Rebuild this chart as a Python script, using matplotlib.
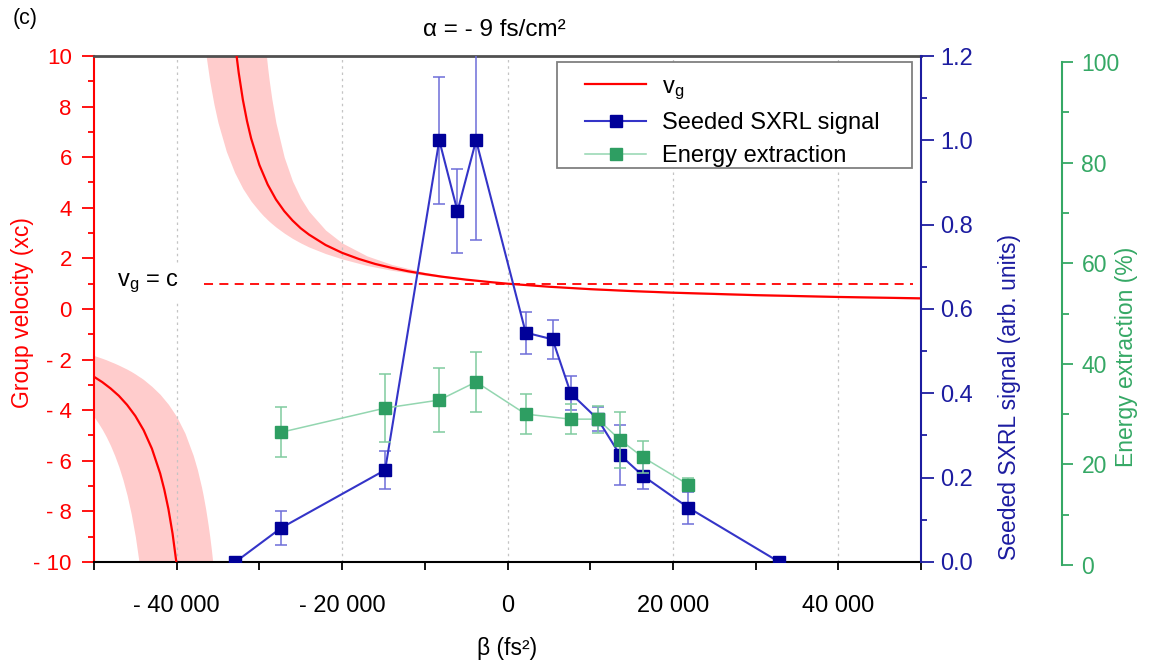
import matplotlib
matplotlib.use('Agg')
import matplotlib.pyplot as plt
from matplotlib.lines import Line2D
from matplotlib.patches import Rectangle

plt.rcParams['font.family'] = ['Liberation Sans', 'DejaVu Sans']
plt.rcParams['mathtext.default'] = 'regular'

# ---------------- data ----------------
# group velocity curve, upper branch (beta in fs^2, vg in units of c)
vg_up_beta = [-32800, -32500, -32000, -31500, -31000, -30000, -29000, -28000, -27000,
              -26000, -25000, -24000, -22000, -20000, -18000, -16000, -14000, -12000,
              -10000, -8000, -5000, -2000, 0, 5000, 10000, 15000, 20000, 30000, 40000, 50000]
vg_up = [10.11, 9.33, 8.27, 7.43, 6.74, 5.69, 4.92, 4.33, 3.87,
         3.50, 3.19, 2.94, 2.53, 2.22, 1.98, 1.78, 1.625, 1.49,
         1.38, 1.28, 1.16, 1.06, 1.00, 0.88, 0.784, 0.708, 0.645, 0.548, 0.476, 0.421]
# lower branch
vg_lo_beta = [-50000, -49000, -48000, -47000, -46000, -45000, -44000, -43000, -42000,
              -41500, -41000, -40500, -40000]
vg_lo = [-2.68, -2.89, -3.14, -3.43, -3.79, -4.23, -4.79, -5.52, -6.50,
         -7.14, -7.91, -8.88, -10.11]

# uncertainty band around upper branch
band_up_beta = [-36800, -36500, -36000, -35500, -35000, -34000, -33000, -32000, -31000,
                -30000, -29500, -29300, -29000, -28800, -28500, -28000, -27000, -26000,
                -25000, -24000, -22000, -20000, -17000, -14000, -10000, -5000, 0, 10000,
                20000, 30000, 40000, 50000]
band_up_low = [10.95, 10.13, 9.00, 8.10, 7.36, 6.23, 5.40, 4.76, 4.26,
               3.86, 3.68, 3.62, 3.52, 3.46, 3.375, 3.24, 3.00, 2.79,
               2.61, 2.45, 2.19, 1.98, 1.72, 1.53, 1.33, 1.14, 1.00, 0.80,
               0.669, 0.574, 0.503, 0.4475]
band_up_high = [11, 11, 11, 11, 11, 11, 11, 11, 11,
                11, 11, 10.45, 9.53, 9.00, 8.31, 7.36, 6.00, 5.06,
                4.38, 3.86, 3.12, 2.61, 2.10, 1.76, 1.446, 1.18, 1.00, 0.764,
                0.618, 0.519, 0.4475, 0.393]
# uncertainty band around lower branch
band_lo_beta = [-50000, -49500, -49000, -48500, -48000, -47500, -47000, -46500, -46000,
                -45500, -45000, -44500, -44300, -44000, -43000, -42000, -41000, -40000,
                -39000, -38000, -37500, -37000, -36800, -36500, -36200, -36000, -35800,
                -35600, -35400]
band_lo_low = [-4.26, -4.50, -4.76, -5.06, -5.40, -5.79, -6.23, -6.75, -7.36,
               -8.10, -9.00, -10.13, -10.66, -11, -11, -11, -11, -11,
               -11, -11, -11, -11, -11, -11, -11, -11, -11,
               -11, -11]
band_lo_high = [-1.84, -1.895, -1.95, -2.01, -2.08, -2.146, -2.22, -2.30, -2.38,
                -2.47, -2.57, -2.68, -2.72, -2.79, -3.06, -3.375, -3.77, -4.26,
                -4.91, -5.79, -6.35, -7.04, -7.36, -7.90, -8.53, -9.00, -9.53,
                -10.13, -10.8]

vgc_beta = [-36700, 49000]
vgc_level = 1.0

# seeded SXRL signal (arb. units)
sxrl_beta = [-32900, -27350, -14800, -8250, -6050, -3800, 2200, 5450, 7650,
             10900, 13600, 16400, 21850, 32850]
sxrl_signal = [0.0, 0.081, 0.218, 1.0, 0.832, 1.0, 0.544, 0.528, 0.400,
               0.339, 0.254, 0.204, 0.129, 0.0]
sxrl_err = [0.0, 0.040, 0.046, 0.151, 0.100, 0.237, 0.050, 0.046, 0.040,
            0.028, 0.071, 0.030, 0.038, 0.0]

# energy extraction (%)
ext_beta = [-27350, -14800, -8250, -3800, 2200, 7650, 10900, 13600, 16400, 21850]
ext_value = [26.4, 31.2, 32.8, 36.4, 30.0, 29.0, 29.0, 24.9, 21.4, 16.0]
ext_err = [5.0, 6.8, 6.3, 6.0, 4.0, 3.0, 2.7, 5.6, 3.2, 1.3]

x_ticks = [-40000, -20000, 0, 20000, 40000]
x_tick_labels = ['- 40 000', '- 20 000', '0', '20 000', '40 000']
x_minor = [-50000, -30000, -10000, 10000, 30000, 50000]
vg_ticks = [-10, -8, -6, -4, -2, 0, 2, 4, 6, 8, 10]
vg_tick_labels = ['- 10', '- 8', '- 6', '- 4', '- 2', '0', '2', '4', '6', '8', '10']
vg_minor = [-9, -7, -5, -3, -1, 1, 3, 5, 7, 9]
sig_ticks = [0.0, 0.2, 0.4, 0.6, 0.8, 1.0, 1.2]
sig_tick_labels = ['0.0', '0.2', '0.4', '0.6', '0.8', '1.0', '1.2']
sig_minor = [0.1, 0.3, 0.5, 0.7, 0.9, 1.1]
ext_ticks = [0, 20, 40, 60, 80, 100]
ext_minor = [10, 30, 50, 70, 90]

# ---------------- styling ----------------
RED = '#ff0000'
PINK = '#ffcccc'
NAVY = '#000099'
BLUE_LINE = '#3434c8'
BLUE_ERR = '#6e6ed8'
BLUE_AX = '#1c1ca0'
GREEN_MK = '#2e9e62'
GREEN_LINE = '#93d6b0'
GREEN_ERR = '#80cc9f'
GREEN_AX = '#35a865'

fig = plt.figure(figsize=(11.62, 6.62), dpi=100)
ax = fig.add_axes([0.0809, 0.1511, 0.7117, 0.7643])
ax.set_xlim(-50000, 50000)
ax.set_ylim(-10, 10)

ax.fill_between(band_up_beta, band_up_low, band_up_high, color=PINK, lw=0, zorder=1)
ax.fill_between(band_lo_beta, band_lo_low, band_lo_high, color=PINK, lw=0, zorder=1)
ax.plot(vg_up_beta, vg_up, color=RED, lw=1.6, zorder=3)
ax.plot(vg_lo_beta, vg_lo, color=RED, lw=1.6, zorder=3)
ax.plot(vgc_beta, [vgc_level, vgc_level], color=RED, lw=1.3, ls=(0, (5, 3.5)), zorder=3)
ax.text(-47200, vgc_level, 'v$_g$ = c', fontsize=17, va='center', ha='left', zorder=4,
        bbox=dict(facecolor='white', edgecolor='none', pad=4))

ax.set_xticks(x_ticks, x_tick_labels)
ax.set_xticks(x_minor, minor=True)
ax.set_yticks(vg_ticks, vg_tick_labels)
ax.set_yticks(vg_minor, minor=True)
ax.grid(axis='x', which='major', color='#c4c4c4', ls=(0, (2, 3)), lw=0.9, zorder=0)
ax.tick_params(axis='x', which='both', direction='out', length=6, width=1.3,
               color='black', labelsize=17, pad=18)
ax.tick_params(axis='y', which='major', direction='out', length=9, width=1.3,
               color=RED, labelcolor=RED, labelsize=16, pad=7)
ax.tick_params(axis='y', which='minor', direction='out', length=4.5, width=1.3, color=RED)
ax.spines['left'].set_color(RED)
ax.spines['left'].set_linewidth(1.5)
ax.spines['top'].set_color('#505050')
ax.spines['top'].set_linewidth(2)
ax.spines['bottom'].set_linewidth(1.5)
ax.spines['right'].set_visible(False)
ax.set_ylabel('Group velocity (xc)', color=RED, fontsize=16.5)
ax.yaxis.label.set_va('center')
ax.yaxis.set_label_coords(-0.087, 0.492)
ax.set_xlabel('β (fs²)', fontsize=16.5)
ax.xaxis.label.set_va('center')
ax.xaxis.set_label_coords(0.5, -0.172)
ax.text(0.4837, 1.052, 'α = - 9 fs/cm²', fontsize=17.5, ha='center', va='center',
        transform=ax.transAxes)

# seeded signal axis
ax2 = ax.twinx()
ax2.set_ylim(0, 1.2)
ax2.errorbar(sxrl_beta, sxrl_signal, yerr=sxrl_err, color=BLUE_LINE, lw=1.5,
             ecolor=BLUE_ERR, elinewidth=1.1, capsize=4, capthick=1.1,
             marker='s', ms=9, mfc=NAVY, mec=NAVY, zorder=3)
for s in ['top', 'left', 'bottom']:
    ax2.spines[s].set_visible(False)
ax2.spines['right'].set_color(BLUE_AX)
ax2.spines['right'].set_linewidth(1.5)
ax2.set_yticks(sig_ticks, sig_tick_labels)
ax2.set_yticks(sig_minor, minor=True)
ax2.tick_params(axis='y', which='major', direction='out', length=9, width=1.3,
                color=BLUE_AX, labelcolor=BLUE_AX, labelsize=17, pad=5)
ax2.tick_params(axis='y', which='minor', direction='out', length=4.5, width=1.3, color=BLUE_AX)
ax2.set_ylabel('Seeded SXRL signal (arb. units)', color=BLUE_AX, fontsize=16.5)
ax2.yaxis.label.set_va('center')
ax2.yaxis.set_label_coords(1.1076, 0.326)

# energy extraction axis
ax3 = fig.add_axes([0.0809, 0.1465, 0.7117, 0.7598])
ax3.patch.set_visible(False)
ax3.set_xlim(-50000, 50000)
ax3.set_ylim(0, 100)
ax3.errorbar(ext_beta, ext_value, yerr=ext_err, color=GREEN_LINE, lw=1.1,
             ecolor=GREEN_ERR, elinewidth=1.1, capsize=4, capthick=1.1,
             marker='s', ms=9, mfc=GREEN_MK, mec=GREEN_MK, zorder=3)
for s in ['top', 'left', 'bottom']:
    ax3.spines[s].set_visible(False)
ax3.xaxis.set_visible(False)
ax3.yaxis.tick_right()
ax3.yaxis.set_label_position('right')
ax3.spines['right'].set_position(('axes', 1.1705))
ax3.spines['right'].set_color(GREEN_AX)
ax3.spines['right'].set_linewidth(1.5)
ax3.set_yticks(ext_ticks)
ax3.set_yticks(ext_minor, minor=True)
ax3.tick_params(axis='y', which='major', direction='out', length=8, width=1.3,
                color=GREEN_AX, labelcolor=GREEN_AX, labelsize=16.5, pad=6)
ax3.tick_params(axis='y', which='minor', direction='out', length=5, width=1.3, color=GREEN_AX)
ax3.set_ylabel('Energy extraction (%)', color=GREEN_AX, fontsize=16.5)
ax3.yaxis.label.set_va('center')
ax3.yaxis.set_label_coords(1.248, 0.4135)

# legend: frame drawn separately to get the wide side margins of the original
ax3.add_patch(Rectangle((0.5599, 0.7787), 0.4293, 0.2095, transform=ax.transAxes,
                        facecolor='white', edgecolor='#808080', lw=1.3, zorder=5,
                        clip_on=False))
handles = [Line2D([], [], color=RED, lw=1.6),
           Line2D([], [], color=BLUE_LINE, lw=1.5, marker='s', ms=9, mfc=NAVY, mec=NAVY),
           Line2D([], [], color=GREEN_LINE, lw=1.1, marker='s', ms=9, mfc=GREEN_MK, mec=GREEN_MK)]
labels = ['v$_g$', 'Seeded SXRL signal', 'Energy extraction']
leg = ax3.legend(handles, labels, loc='upper left', bbox_to_anchor=(0.5937, 0.961),
                 bbox_transform=ax.transAxes, borderaxespad=0, fontsize=17,
                 frameon=False, handlelength=2.6, handletextpad=0.68, borderpad=0,
                 labelspacing=0.45)
leg.set_zorder(6)

fig.text(0.0215, 0.972, '(c)', fontsize=15.5, ha='center', va='center')

fig.savefig('out.png', dpi=100)
